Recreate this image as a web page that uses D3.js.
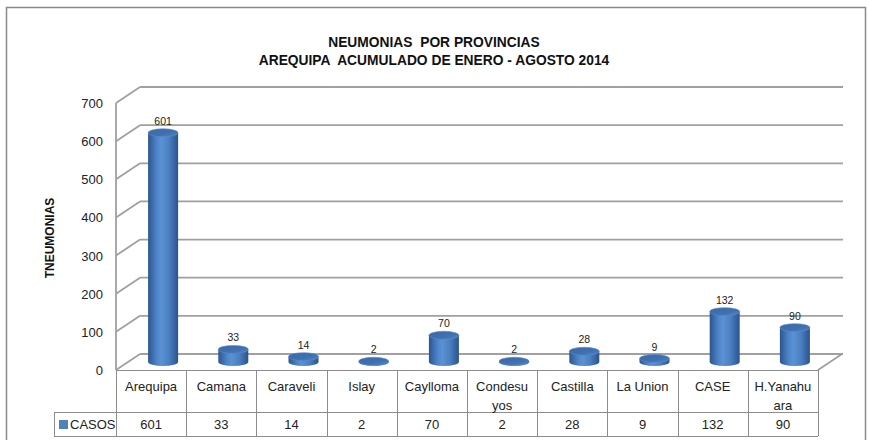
<!DOCTYPE html>
<html><head><meta charset="utf-8">
<script src="https://cdn.jsdelivr.net/npm/d3@7/dist/d3.min.js"></script>
<style>body{margin:0;background:#fff}svg{display:block;font-family:"Liberation Sans",Arial,sans-serif}text{white-space:pre}</style>
</head><body><svg id="c" width="869" height="440"></svg>
<script>
const categories = ["Arequipa","Camana","Caraveli","Islay","Caylloma","Condesuyos","Castilla","La Union","CASE","H.Yanahuara"];
const categoryLabelLines = [["Arequipa"],["Camana"],["Caraveli"],["Islay"],["Caylloma"],["Condesu","yos"],["Castilla"],["La Union"],["CASE"],["H.Yanahu","ara"]];
const casos = [601,33,14,2,70,2,28,9,132,90];
const yTicks = [0,100,200,300,400,500,600,700];
const seriesName = "CASOS";
const titleLines = ["NEUMONIAS  POR PROVINCIAS","AREQUIPA  ACUMULADO DE ENERO - AGOSTO 2014"];
const yTitle = "TNEUMONIAS";

const svg = d3.select("#c");
const left=116, right=818, floorY=370, topY=103;
const dx=24, dy=-16;
const x = d3.scaleBand().domain(categories).range([left,right]).paddingInner(0);
const y = d3.scaleLinear().domain([0,700]).range([floorY,topY]);
const grid="#a0a0a0", tbl="#8c8c8c";

// outer border
svg.append("rect").attr("x",6.5).attr("y",7.5).attr("width",859).attr("height",445)
  .attr("fill","none").attr("stroke","#8a8a8a").attr("stroke-width",1.5);

// titles
svg.selectAll("text.title").data(titleLines).join("text").attr("class","title")
  .attr("x",434).attr("y",(d,i)=>47+i*18).attr("text-anchor","middle")
  .attr("font-weight","bold").attr("font-size",13.8).attr("fill","#111").text(d=>d);

// walls & gridlines
const g = svg.append("g");
yTicks.forEach(t=>{
  const yy=y(t);
  g.append("line").attr("x1",left).attr("y1",yy).attr("x2",left+dx).attr("y2",yy+dy)
    .attr("stroke",grid).attr("stroke-width",1.8);
  g.append("line").attr("x1",left+dx).attr("y1",yy+dy).attr("x2",right+dx+1).attr("y2",yy+dy)
    .attr("stroke",grid).attr("stroke-width",1.8);
});
g.append("line").attr("x1",left).attr("y1",y(700)).attr("x2",left).attr("y2",floorY)
  .attr("stroke",grid).attr("stroke-width",1.8);
g.append("line").attr("x1",right).attr("y1",floorY).attr("x2",right+dx).attr("y2",floorY+dy)
  .attr("stroke",grid).attr("stroke-width",1.8);

// y axis labels
svg.selectAll("text.ytick").data(yTicks).join("text").attr("class","ytick")
  .attr("x",103).attr("y",d=>y(d)+5).attr("text-anchor","end")
  .attr("font-size",13).attr("fill","#222").text(d=>d);

svg.append("text").attr("transform","translate(54,238) rotate(-90)")
  .attr("text-anchor","middle").attr("font-weight","bold").attr("font-size",12)
  .attr("fill","#111").text(yTitle);

// gradients
const defs=svg.append("defs");
const bg=defs.append("linearGradient").attr("id","body").attr("x1","0").attr("x2","1").attr("y1","0").attr("y2","0");
[["0%","#2b5590"],["30%","#4f86cb"],["45%","#5b91d4"],["70%","#4a7fc0"],["100%","#2a538c"]].forEach(s=>bg.append("stop").attr("offset",s[0]).attr("stop-color",s[1]));
const tg=defs.append("linearGradient").attr("id","top").attr("x1","0").attr("x2","1").attr("y1","0").attr("y2","1");
[["0%","#3a69a6"],["60%","#3f70b0"],["100%","#5585c4"]].forEach(s=>tg.append("stop").attr("offset",s[0]).attr("stop-color",s[1]));

// cylinders
const rx=15, ry=4, depthMid=8;
const bars=svg.append("g").selectAll("g").data(categories.map((c,i)=>({c,v:casos[i]}))).join("g");
bars.each(function(d){
  const gg=d3.select(this);
  const cx=x(d.c)+x.bandwidth()/2+dx/2;
  const b=y(0)-depthMid, t=y(d.v)-depthMid;
  gg.append("path").attr("d",`M${cx-rx},${t} L${cx-rx},${b} A${rx},${ry} 0 0 0 ${cx+rx},${b} L${cx+rx},${t} Z`)
    .attr("fill","url(#body)");
  gg.append("ellipse").attr("cx",cx).attr("cy",t).attr("rx",rx).attr("ry",ry)
    .attr("fill","url(#top)").attr("stroke","#5d8ccb").attr("stroke-width",0.6);
  gg.append("text").attr("x",cx).attr("y",t-8).attr("text-anchor","middle")
    .attr("font-size",10.5).attr("fill","#222").text(d.v);
});

// data table
const tb=svg.append("g");
const row1=floorY, row2=412, row3=436;
tb.append("line").attr("x1",left).attr("x2",right).attr("y1",row1+0.5).attr("y2",row1+0.5).attr("stroke",tbl);
tb.append("line").attr("x1",54).attr("x2",right).attr("y1",row2+0.5).attr("y2",row2+0.5).attr("stroke",tbl);
tb.append("line").attr("x1",54).attr("x2",right).attr("y1",row3+0.5).attr("y2",row3+0.5).attr("stroke",tbl);
tb.append("line").attr("x1",54.5).attr("x2",54.5).attr("y1",row2).attr("y2",row3).attr("stroke",tbl);
categories.forEach((c,i)=>{
  const xl=Math.round(x(c))+0.5;
  tb.append("line").attr("x1",xl).attr("x2",xl).attr("y1",row1).attr("y2",row3).attr("stroke",tbl);
});
tb.append("line").attr("x1",right+0.5).attr("x2",right+0.5).attr("y1",row1).attr("y2",row3).attr("stroke",tbl);

categories.forEach((c,i)=>{
  const cxx=x(c)+x.bandwidth()/2;
  categoryLabelLines[i].forEach((ln,j)=>{
    tb.append("text").attr("x",cxx).attr("y",391+j*19).attr("text-anchor","middle")
      .attr("font-size",13).attr("fill","#222").text(ln);
  });
  tb.append("text").attr("x",cxx).attr("y",429).attr("text-anchor","middle")
    .attr("font-size",13).attr("fill","#222").text(casos[i]);
});
tb.append("rect").attr("x",59).attr("y",420).attr("width",9).attr("height",9).attr("fill","#4f81bd");
tb.append("text").attr("x",70).attr("y",429).attr("font-size",13).attr("fill","#222").text(seriesName);
</script></body></html>
